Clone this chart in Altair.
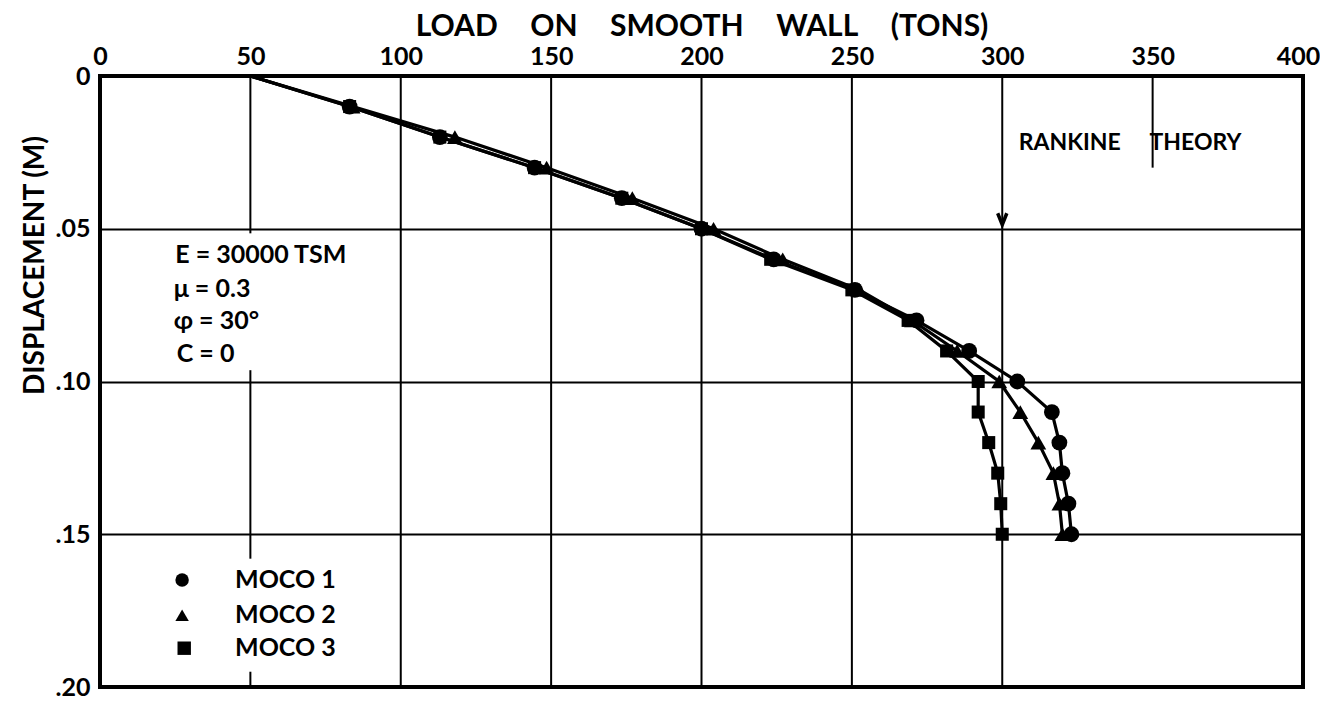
import altair as alt
import pandas as pd

# ---- data ----
disp = [0.0, 0.01, 0.02, 0.03, 0.04, 0.05, 0.06, 0.07, 0.08, 0.09, 0.10, 0.11, 0.12, 0.13, 0.14, 0.15]
moco1 = [50, 83, 113, 144.5, 173.5, 200, 224, 251, 271.5, 289, 305, 316.5, 319, 320, 322, 323]
moco2 = [50, 84, 118, 148.5, 177, 204, 227, 252.5, 270, 285, 299, 306, 312, 317, 319, 320]
moco3 = [50, 83, 113, 144.5, 173.5, 200, 223, 250, 268.7, 281.5, 292, 292, 295.5, 298.5, 299.5, 300]
series_names = ["MOCO 1", "MOCO 2", "MOCO 3"]
series_shapes = ["circle", "triangle-up", "square"]
series_sizes = [250, 250, 170]

x_ticks = [0, 50, 100, 150, 200, 250, 300, 350, 400]
y_ticks = [0, 0.05, 0.10, 0.15, 0.20]

# vertical grid segments (load, displacement from, displacement to)
grid_x = [50, 50, 50, 100, 150, 200, 250, 300, 350]
grid_y1 = [0, 0.0963, 0.195, 0, 0, 0, 0, 0, 0]
grid_y2 = [0.0515, 0.158, 0.2, 0.2, 0.2, 0.2, 0.2, 0.2, 0.03]

# annotations
params_text = ["E = 30000 TSM", "\u03bc = 0.3", "\u03c6 = 30\u00b0", "C = 0"]
params_x = [25, 24.5, 24.5, 25.5]
params_y = [0.0586, 0.0697, 0.0803, 0.0911]
rankine_text = ["RANKINE\u2003\u2002THEORY"]
rankine_x = [305.5]
rankine_y = [0.0219]
arrow_x = [300]
arrow_y = [0.0468]
legend_mark_x = [27.3, 27.3, 28.0]
legend_mark_y = [0.165, 0.1765, 0.1873]
legend_text_x = [44.9, 44.9, 44.9]
legend_sizes = [180, 180, 140]

FONT = "Lato"
W = "bold"
x_title = "\u2003\u2004".join(["LOAD", "ON", "SMOOTH", "WALL", "(TONS)"])

series_vals = [moco1, moco2, moco3]
frames = {}
for name, vals in zip(series_names, series_vals):
    frames[name] = pd.DataFrame({"series": name, "disp": disp, "load": vals})
df = pd.concat(list(frames.values()), ignore_index=True)

xs = alt.Scale(domain=[0, 400], nice=False)
ys = alt.Scale(domain=[0, 0.2], reverse=True, nice=False)

x_axis = alt.Axis(
    orient="top", values=x_ticks, title=x_title,
    labelFont=FONT, labelFontSize=25, labelFontWeight=W, labelColor="black",
    labelPadding=7, ticks=False, domain=False, grid=False,
    labelOffset={"condition": {"test": "datum.value == 400", "value": -5}, "value": 0},
    titleFont=FONT, titleFontSize=30, titleFontWeight=W, titleColor="black",
    titlePadding=3, labelFlush=False,
)
y_axis = alt.Axis(
    orient="left", values=y_ticks,
    labelExpr="datum.value == 0 ? '0' : substring(format(datum.value, '.2f'), 1)",
    labelFont=FONT, labelFontSize=25, labelFontWeight=W, labelColor="black",
    labelPadding=10, ticks=False, domain=False,
    grid=True, gridColor="black", gridWidth=2, gridOpacity=1,
    title="DISPLACEMENT (M)", titleFont=FONT, titleFontSize=28, titleFontWeight=W,
    titleColor="black", titleX=-65, titleY=189, titleAlign="center", titleBaseline="middle",
    titleAngle=270,
)

grid_df = pd.DataFrame({"x": grid_x, "y1": grid_y1, "y2": grid_y2})
vgrid = alt.Chart(grid_df).mark_rule(color="black", strokeWidth=2).encode(
    x=alt.X("x:Q", scale=xs, axis=x_axis),
    y=alt.Y("y1:Q", scale=ys, axis=y_axis),
    y2="y2:Q",
)

lines = alt.Chart(df).mark_line(color="black", strokeWidth=3.2).encode(
    x=alt.X("load:Q", scale=xs),
    y=alt.Y("disp:Q", scale=ys),
    detail="series:N",
    order=alt.Order("disp:Q"),
)

# markers: one layer per series, squares first, circles last (on top)
marker_layers = []
for name, shape, size in reversed(list(zip(series_names, series_shapes, series_sizes))):
    d = frames[name]
    marker_layers.append(
        alt.Chart(d[d["disp"] > 0]).mark_point(
            filled=True, color="black", opacity=1, shape=shape, size=size
        ).encode(x=alt.X("load:Q", scale=xs), y=alt.Y("disp:Q", scale=ys))
    )

params = alt.Chart(pd.DataFrame({"t": params_text, "x": params_x, "y": params_y})).mark_text(
    font=FONT, fontSize=25, fontWeight=W, align="left", baseline="middle", color="black"
).encode(x=alt.X("x:Q", scale=xs), y=alt.Y("y:Q", scale=ys), text="t:N")

rankine = alt.Chart(pd.DataFrame({"t": rankine_text, "x": rankine_x, "y": rankine_y})).mark_text(
    font=FONT, fontSize=23, fontWeight=W, align="left", baseline="middle", color="black"
).encode(x=alt.X("x:Q", scale=xs), y=alt.Y("y:Q", scale=ys), text="t:N")

arrow = alt.Chart(pd.DataFrame({"x": arrow_x, "y": arrow_y})).mark_point(
    shape="M-0.4,-0.5L0,0.5L0.4,-0.5", filled=False, color="black", strokeWidth=3.5, size=520, opacity=1
).encode(x=alt.X("x:Q", scale=xs), y=alt.Y("y:Q", scale=ys))

leg_df = pd.DataFrame({"series": series_names, "mx": legend_mark_x, "my": legend_mark_y, "tx": legend_text_x})
leg_marks = alt.Chart(leg_df).mark_point(filled=True, color="black", opacity=1).encode(
    x=alt.X("mx:Q", scale=xs), y=alt.Y("my:Q", scale=ys),
    shape=alt.Shape("series:N", scale=alt.Scale(domain=series_names, range=series_shapes), legend=None),
    size=alt.Size("series:N", scale=alt.Scale(domain=series_names, range=legend_sizes), legend=None),
)
leg_text = alt.Chart(leg_df).mark_text(
    font=FONT, fontSize=25, fontWeight=W, align="left", baseline="middle", color="black"
).encode(x=alt.X("tx:Q", scale=xs), y=alt.Y("my:Q", scale=ys), text="series:N")

chart = alt.layer(vgrid, lines, *marker_layers, params, rankine, arrow, leg_marks, leg_text).properties(
    width=1203, height=611,
    autosize=alt.AutoSizeParams(type="none"),
    padding={"left": 92, "top": 68, "right": 17, "bottom": 14},
    background="white",
).configure_view(stroke="black", strokeWidth=4)

chart.save("out.html", embed_options={"renderer": "svg", "actions": False})
